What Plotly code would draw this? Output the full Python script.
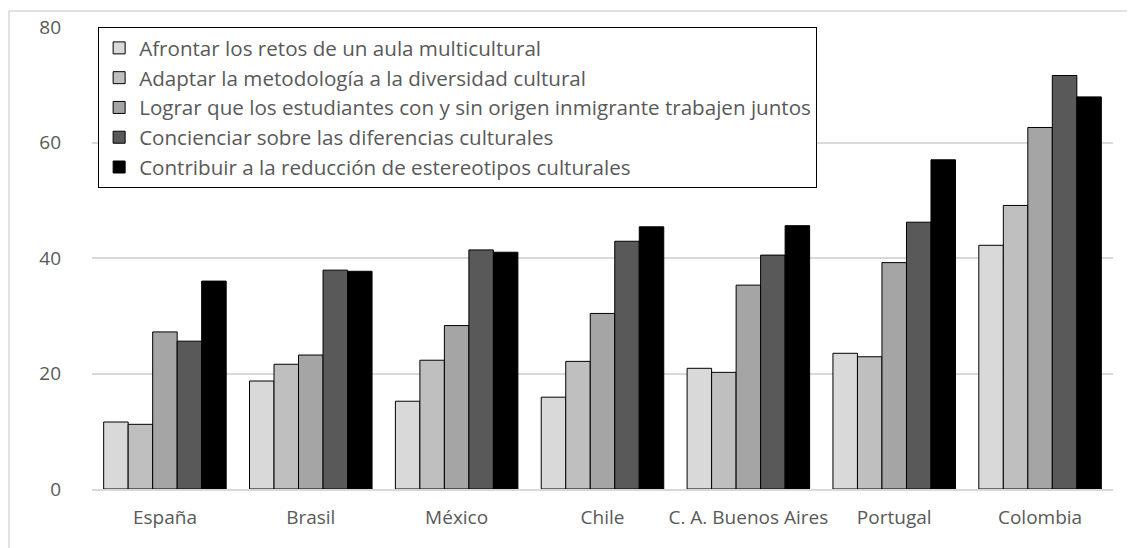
import plotly.graph_objects as go

categories = ["España", "Brasil", "México", "Chile", "C. A. Buenos Aires", "Portugal", "Colombia"]
series_names = [
    "Afrontar los retos de un aula multicultural",
    "Adaptar la metodología a la diversidad cultural",
    "Lograr que los estudiantes con y sin origen inmigrante trabajen juntos",
    "Concienciar sobre las diferencias culturales",
    "Contribuir a la reducción de estereotipos culturales",
]
afrontar = [11.6, 18.7, 15.2, 15.9, 20.9, 23.5, 42.2]
adaptar = [11.2, 21.6, 22.3, 22.1, 20.2, 22.9, 49.1]
lograr = [27.2, 23.2, 28.3, 30.4, 35.3, 39.2, 62.6]
concienciar = [25.6, 37.9, 41.4, 42.9, 40.5, 46.2, 71.6]
contribuir = [36.0, 37.7, 41.0, 45.4, 45.6, 57.0, 67.9]
series_values = [afrontar, adaptar, lograr, concienciar, contribuir]
colors = ["#D9D9D9", "#BFBFBF", "#A5A5A5", "#595959", "#000000"]
y_ticks = [0, 20, 40, 60, 80]

FONT = "'Open Sans', Lato, sans-serif"
TXT = "#595959"

fig = go.Figure()
for name, vals, col in zip(series_names, series_values, colors):
    fig.add_trace(go.Bar(
        x=categories, y=vals, name=name,
        marker=dict(color=col, line=dict(color="#000000", width=1)),
    ))

# page body has an 8px margin; figure sized/margined so plot area sits at x 92-1113, y 27-489
W, H = 1127, 540
L, R, T, B = 84, 22, 19, 59
pw = W - L - R
ph = H - T - B

fig.update_layout(
    width=W, height=H,
    margin=dict(l=L, r=R, t=T, b=B, autoexpand=False),
    paper_bgcolor="white", plot_bgcolor="white",
    barmode="group", bargap=0.16, bargroupgap=0,
    font=dict(family=FONT, size=19, color=TXT),
    showlegend=True,
    legend=dict(
        x=0.006, y=1.0, xanchor="left", yanchor="top",
        bgcolor="white", bordercolor="#000000", borderwidth=1,
        font=dict(family=FONT, size=20.6, color=TXT),
        tracegroupgap=0, entrywidth=700, entrywidthmode="pixels",
    ),
    xaxis=dict(
        automargin=False,
        showgrid=False, showline=True, linecolor="#D9D9D9", linewidth=2,
        ticks="", tickfont=dict(size=19, color=TXT), ticklabelstandoff=10,
    ),
    yaxis=dict(
        automargin=False,
        range=[0, 80], tickvals=y_ticks, showgrid=True, gridcolor="#D9D9D9", gridwidth=1.5,
        zeroline=False, showline=False, ticks="", tickfont=dict(size=19, color=TXT),
        ticklabelstandoff=30,
    ),
    shapes=[
        dict(type="line", xref="paper", yref="paper", x0=-(L - 1) / pw, x1=1.05,
             y0=1 + (T - 3) / ph, y1=1 + (T - 3) / ph,
             line=dict(color="#D9D9D9", width=1.5)),
        dict(type="line", xref="paper", yref="paper", x0=-(L - 1) / pw, x1=-(L - 1) / pw,
             y0=-0.2, y1=1 + (T - 3) / ph,
             line=dict(color="#D9D9D9", width=1.5)),
    ],
)

fig.write_html("out.html")
